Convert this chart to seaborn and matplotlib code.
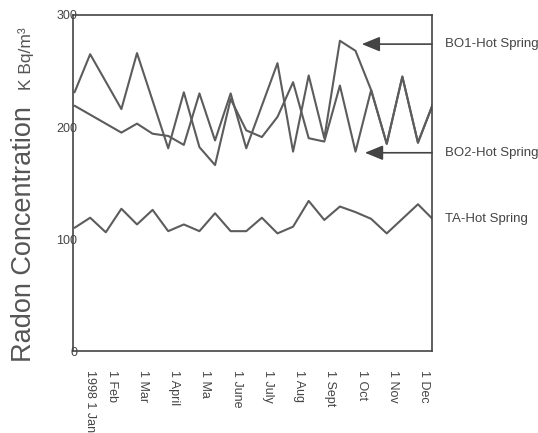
import matplotlib
matplotlib.use("Agg")
import matplotlib.pyplot as plt
import matplotlib.transforms as mtransforms
import seaborn as sns

# half-month sample index (0 = 1 Jan 1998, 2 = 1 Feb, ...)
bo1_idx = [0, 3, 4, 5, 6, 7, 8, 9, 10, 11, 13, 14, 15, 16, 17, 18, 19, 20, 21, 22, 23]
bo1_radon = [219, 195, 203, 194, 192, 184, 230, 188, 230, 181, 257, 178, 246, 190, 277, 268, 233, 185, 245, 186, 222]

bo2_idx = [0, 1, 3, 4, 6, 7, 8, 9, 10, 11, 12, 13, 14, 15, 16, 17, 18, 19, 20, 21, 22, 23]
bo2_radon = [231, 265, 216, 266, 181, 231, 182, 166, 225, 197, 191, 209, 240, 190, 187, 237, 178, 233, 185, 245, 186, 222]

ta_idx = [0, 1, 2, 3, 4, 5, 6, 7, 8, 9, 10, 11, 12, 13, 14, 15, 16, 17, 18, 19, 20, 22, 23]
ta_radon = [110, 119, 106, 127, 113, 126, 107, 113, 107, 123, 107, 107, 119, 105, 111, 134, 117, 129, 124, 118, 105, 131, 117]

month_ticks = [0, 2, 4, 6, 8, 10, 12, 14, 16, 18, 20, 22]
month_labels = ["1998 1 Jan", "1 Feb", "1 Mar", "1 April", "1 Ma", "1 June",
                "1 July", "1 Aug", "1 Sept", "1 Oct", "1 Nov", "1 Dec"]
series_names = ["BO1-Hot Spring", "BO2-Hot Spring", "TA-Hot Spring"]

sns.set_style("white")
plt.rcParams["font.family"] = ["Liberation Sans", "DejaVu Sans"]

W, H = 538, 433
fig = plt.figure(figsize=(W / 100, H / 100), dpi=100)
ax = fig.add_axes([73 / W, 1 - 351 / H, (432 - 73) / W, (351 - 15) / H])

line_col = "#5c5c5c"
ink = "#444444"

sns.lineplot(x=bo1_idx, y=bo1_radon, ax=ax, color=line_col, lw=1.5)
sns.lineplot(x=bo2_idx, y=bo2_radon, ax=ax, color=line_col, lw=1.5)
sns.lineplot(x=ta_idx, y=ta_radon, ax=ax, color=line_col, lw=1.5)

ax.set_xlim(-0.1, 22.9)
ax.set_ylim(0, 300)
ax.set_yticks([0, 100, 200, 300])
ax.set_xticks(month_ticks)
ax.set_xticklabels(month_labels, rotation=270, ha="left", va="top", fontsize=9, color=ink)
ax.tick_params(axis="y", length=0, pad=-3, labelsize=9, labelcolor=ink)
ax.tick_params(axis="x", length=3, width=1.5, color=ink, pad=11, direction="out")
ax.set_xlabel("")
ax.set_ylabel("")

# first label sits a bit further right in the original
first = ax.get_xticklabels()[0]
first.set_transform(first.get_transform() + mtransforms.ScaledTranslation(9 / 100, 0, fig.dpi_scale_trans))

for sp in ax.spines.values():
    sp.set_color(ink)
    sp.set_linewidth(1.2)

# arrows from the right frame to the curves
arrow_style = dict(arrowstyle="-|>,head_length=1.1,head_width=0.45", color=ink, lw=1.2,
                   shrinkA=0, shrinkB=0)
ax.annotate("", xy=(18.4, 274), xytext=(1.0, 274), textcoords=("axes fraction", "data"),
            arrowprops=arrow_style)
ax.annotate("", xy=(18.6, 177), xytext=(1.0, 177), textcoords=("axes fraction", "data"),
            arrowprops=arrow_style)

# series names on the right
fig.text(445 / W, 1 - 44 / H, series_names[0], fontsize=9.5, color=ink, va="center")
fig.text(445 / W, 1 - 153 / H, series_names[1], fontsize=9.5, color=ink, va="center")
fig.text(445 / W, 1 - 219 / H, series_names[2], fontsize=9.5, color=ink, va="center")

# y axis label: big word part + small unit
fig.text(31 / W, 1 - 362 / H, "Radon Concentration", fontsize=19.5, color="#555555",
         rotation=90, rotation_mode="anchor", ha="left", va="baseline")
fig.text(31 / W, 1 - 90 / H, "K Bq/m³", fontsize=12.5, color="#555555",
         rotation=90, rotation_mode="anchor", ha="left", va="baseline")

fig.savefig("out.png", dpi=100, facecolor="white")
